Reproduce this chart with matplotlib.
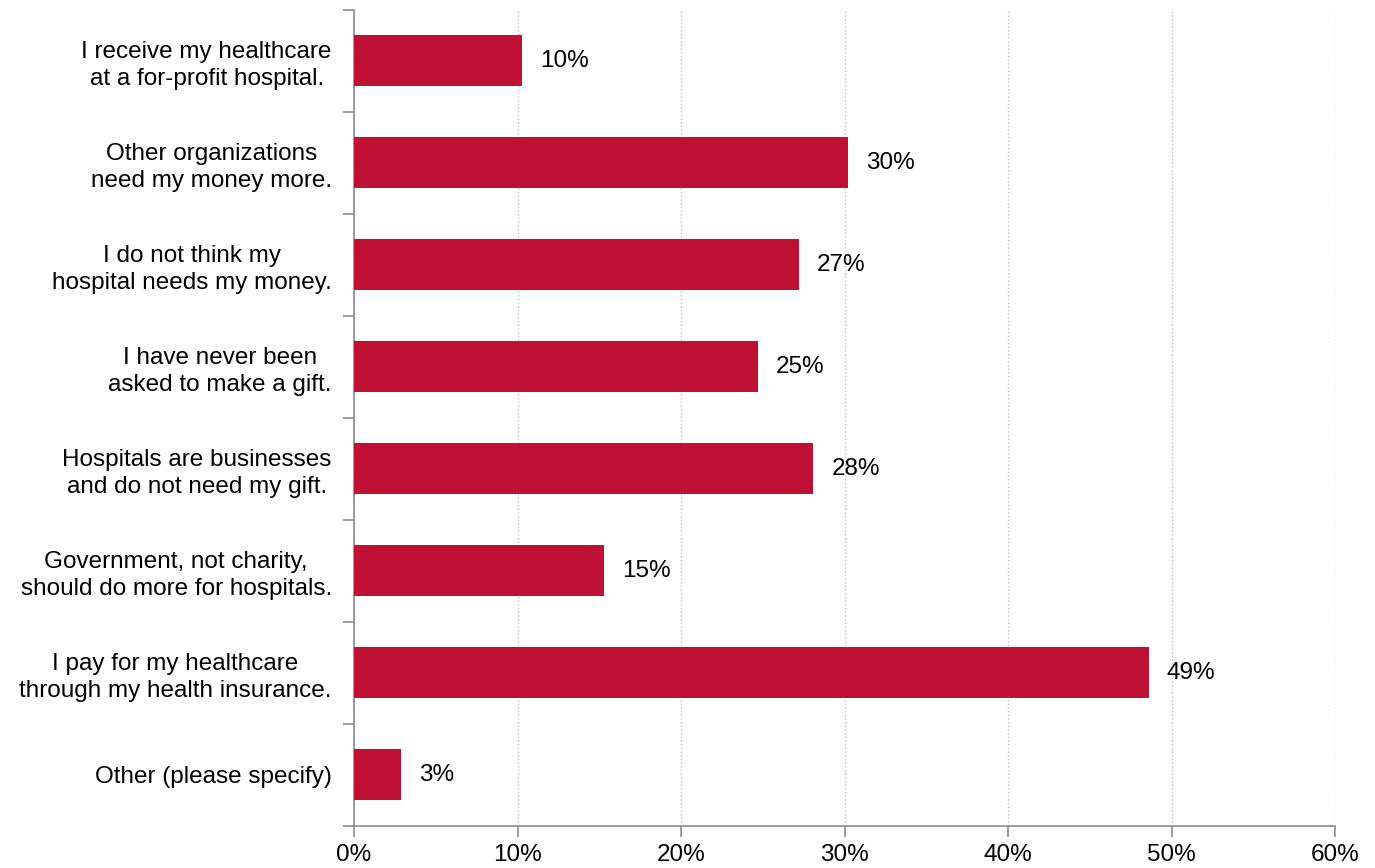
import numpy as np
import matplotlib.pyplot as plt
from matplotlib.ticker import FixedLocator, PercentFormatter

plt.rcParams['font.family'] = ['Liberation Sans', 'DejaVu Sans']

reasons = [
    "I receive my healthcare\nat a for-profit hospital.",
    "Other organizations\nneed my money more.",
    "I do not think my\nhospital needs my money.",
    "I have never been\nasked to make a gift.",
    "Hospitals are businesses\nand do not need my gift.",
    "Government, not charity,\nshould do more for hospitals.",
    "I pay for my healthcare\nthrough my health insurance.",
    "Other (please specify)",
]
shares = [10.3, 30.2, 27.2, 24.7, 28.1, 15.3, 48.6, 2.9]

bar_color = '#BE1134'
axis_gray = '#8C8C8C'
fs = 17.5

fig = plt.figure(figsize=(13.75, 8.68), dpi=100)
ax = fig.add_axes([0.2575, 0.0484, 0.9709 - 0.2575, 0.9885 - 0.0484])

y = np.arange(len(reasons))
ax.barh(y, shares, height=0.5, color=bar_color, zorder=3)

for yi, v in zip(y, shares):
    ax.text(v + 1.1, yi, f"{round(v):.0f}%", va='center', ha='left',
            fontsize=fs, color='black')

ax.set_xlim(0, 60)
ax.set_ylim(len(reasons) - 0.5, -0.5)
ax.set_xticks(np.arange(0, 61, 10))
ax.xaxis.set_major_formatter(PercentFormatter(decimals=0))

ax.set_yticks(y)
ax.set_yticklabels(reasons, multialignment='center', linespacing=1.25)
ax.yaxis.set_minor_locator(FixedLocator(np.arange(-0.5, len(reasons), 1)))
ax.tick_params(axis='y', which='major', length=0, pad=16, labelsize=fs)
ax.tick_params(axis='y', which='minor', length=8, color=axis_gray, width=1.2)
ax.tick_params(axis='x', length=8, color=axis_gray, width=1.2, labelsize=fs, pad=5)

ax.grid(axis='x', color='#BFBFBF', linestyle=':', linewidth=1, zorder=0)

for side in ['top', 'right']:
    ax.spines[side].set_visible(False)
for side in ['left', 'bottom']:
    ax.spines[side].set_color(axis_gray)
    ax.spines[side].set_linewidth(1.2)

fig.savefig('out.png', dpi=100)
